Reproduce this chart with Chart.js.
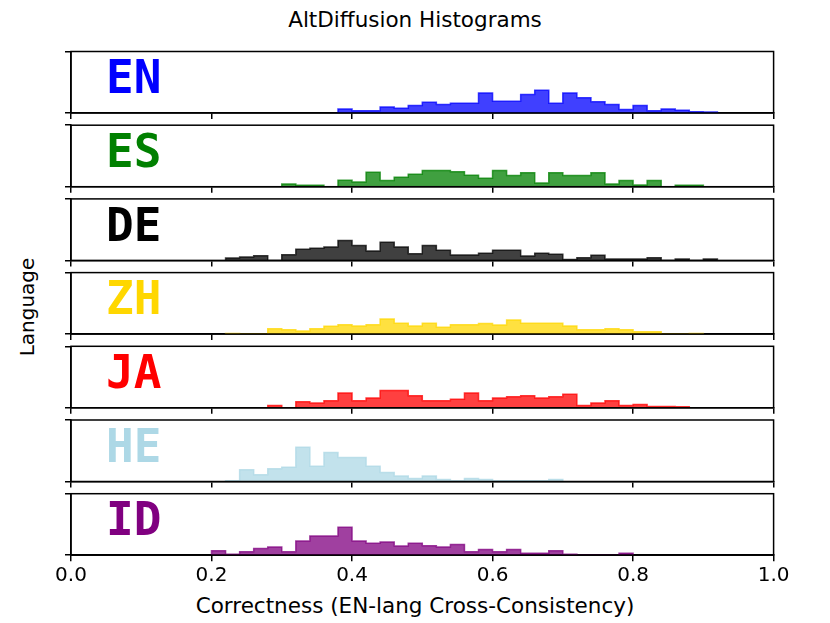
<!DOCTYPE html>
<html>
<head>
<meta charset="utf-8">
<title>AltDiffusion Histograms</title>
<script src="https://cdn.jsdelivr.net/npm/chart.js@4.4.1/dist/chart.umd.min.js"></script>
<style>
  html, body { margin: 0; padding: 0; background: #fff; }
  #figure { position: relative; width: 830px; height: 623px; overflow: hidden; font-family: 'DejaVu Sans', sans-serif; color: #000; }
  #figure canvas { position: absolute; left: 0; top: 0; }
  #suptitle { position: absolute; left: 0; top: 5px; width: 830px; text-align: center; font-size: 21.5px; line-height: 30px; }
  #supxlabel { position: absolute; left: 0; top: 593px; width: 830px; text-align: center; font-size: 21.5px; line-height: 26px; white-space: nowrap; }
  #supylabel { position: absolute; left: 27px; top: 307px; font-size: 20px; line-height: 24px; white-space: nowrap;
               transform: translate(-50%, -50%) rotate(-90deg); }
</style>
</head>
<body>
<div id="figure">
  <div id="suptitle">AltDiffusion Histograms</div>
  <div id="supxlabel"></div>
  <div id="supylabel">Language</div>
</div>
<script>
// histogram data, bins of 0.02, heights (panel top = 182)
const binWidth = 0.02;
const languages = ['EN', 'ES', 'DE', 'ZH', 'JA', 'HE', 'ID'];
const firstBinEdges = [0.38, 0.30, 0.22, 0.22, 0.28, 0.22, 0.20];

const enHeights = [12, 7, 7, 18, 14, 22, 32, 25, 29, 29, 59, 35, 35, 55, 67, 29, 59, 45, 33, 25, 10, 22, 7, 12, 8, 4, 3];
const esHeights = [8, 4, 4, 0, 19, 14, 43, 18, 28, 37, 48, 48, 44, 34, 25, 48, 33, 41, 11, 41, 33, 33, 41, 8, 18, 5, 18, 0, 4, 4];
const deHeights = [7, 10, 14, 0, 17, 33, 36, 40, 59, 44, 28, 54, 40, 20, 44, 30, 16, 16, 21, 30, 30, 13, 21, 18, 3, 8, 15, 4, 4, 4, 8, 0, 4, 0, 4];
const zhHeights = [2, 0, 0, 16, 13, 9, 16, 23, 28, 24, 28, 45, 32, 24, 32, 20, 28, 28, 31, 27, 42, 32, 32, 32, 24, 13, 13, 16, 13, 7, 7, 0, 0, 2];
const jaHeights = [7, 0, 18, 14, 21, 44, 21, 29, 51, 51, 36, 21, 21, 25, 44, 21, 29, 33, 36, 29, 33, 40, 7, 14, 21, 7, 10, 4, 4, 3];
const heHeights = [2, 35, 20, 38, 42, 101, 45, 86, 71, 71, 45, 27, 16, 9, 16, 6, 2, 9, 6, 2, 2, 2, 2, 6];
const idHeights = [13, 3, 10, 20, 24, 10, 42, 57, 57, 83, 42, 35, 39, 27, 35, 28, 24, 32, 10, 17, 10, 17, 6, 6, 13, 3, 0, 0, 0, 6];

const allHeights = [enHeights, esHeights, deHeights, zhHeights, jaHeights, heHeights, idHeights];
const xTicks = [0, 0.2, 0.4, 0.6, 0.8, 1.0];
const yTicks = [0, 182];
const xTitle = 'Correctness (EN-lang Cross-Consistency)';

// styles
const rgb = ['0,0,255', '0,128,0', '0,0,0', '255,215,0', '255,0,0', '173,216,230', '128,0,128'];
const labelColors = ['#0000ff', '#008000', '#000000', '#ffd700', '#ff0000', '#add8e6', '#800080'];

// layout (px)
const figW = 830, figH = 623;
const axLeft = 71, axRight = 773.6;
const panelTop0 = 51.5, panelPitch = 73.7, panelH = 61.5;
const yAxisW = 10;

// x label is centred on the figure, not on the axes
document.getElementById('supxlabel').textContent = xTitle;

function histPoints(start, heights) {
    let pts = [{ x: start, y: 0 }];
    heights.forEach(function (h, i) {
        pts.push({ x: start + i * binWidth, y: h });
    });
    pts.push({ x: start + heights.length * binWidth, y: 0 });
    return pts;
}

// frame round the axes and the big language tag
const panelDecor = {
    id: 'panelDecor',
    afterDraw(chart, args, opts) {
        const ctx = chart.ctx;
        const a = chart.chartArea;
        ctx.save();
        ctx.strokeStyle = '#000';
        ctx.lineWidth = 1.5;
        ctx.strokeRect(a.left, a.top, a.right - a.left, a.bottom - a.top);
        ctx.font = 'bold 46px "DejaVu Sans Mono"';
        ctx.fillStyle = opts.color;
        ctx.textBaseline = 'alphabetic';
        ctx.textAlign = 'left';
        ctx.fillText(opts.label, a.left + 35, a.top + 41.7);
        ctx.restore();
    }
};

const fig = document.getElementById('figure');
const tickFont = { family: "'DejaVu Sans'", size: 20 };

languages.forEach(function (lang, i) {
    const isLast = i === languages.length - 1;
    const top = panelTop0 + i * panelPitch;
    const bottom = top + panelH;
    const xAxisH = isLast ? figH - bottom : 12;

    const canvas = document.createElement('canvas');
    canvas.width = figW;
    canvas.height = figH;
    fig.appendChild(canvas);

    new Chart(canvas, {
        type: 'line',
        data: {
            datasets: [{
                label: lang,
                data: histPoints(firstBinEdges[i], allHeights[i]),
                stepped: 'before', // horizontal first, so each height holds over its bin
                fill: 'origin',
                backgroundColor: 'rgba(' + rgb[i] + ',0.75)',
                borderColor: 'rgba(' + rgb[i] + ',0.75)',
                borderWidth: 1.5,
                pointRadius: 0,
                tension: 0
            }]
        },
        options: {
            responsive: false,
            animation: false,
            events: [],
            layout: {
                padding: {
                    left: axLeft - yAxisW,
                    right: figW - axRight,
                    top: top,
                    bottom: figH - bottom - xAxisH
                }
            },
            plugins: {
                legend: { display: false },
                tooltip: { enabled: false },
                panelDecor: { label: lang, color: labelColors[i] }
            },
            scales: {
                x: {
                    type: 'linear',
                    min: 0,
                    max: 1,
                    afterBuildTicks: function (s) { s.ticks = xTicks.map(v => ({ value: v })); },
                    afterFit: function (s) { s.height = xAxisH; },
                    grid: { drawOnChartArea: false, drawTicks: true, tickLength: 6, color: '#000', lineWidth: 1.5 },
                    border: { display: true, color: '#000', width: 1.5 },
                    ticks: {
                        display: isLast,
                        autoSkip: false,
                        maxRotation: 0,
                        padding: 3,
                        color: '#000',
                        font: tickFont,
                        callback: v => v.toFixed(1)
                    }
                },
                y: {
                    min: yTicks[0],
                    max: yTicks[yTicks.length - 1],
                    afterBuildTicks: function (s) { s.ticks = yTicks.map(v => ({ value: v })); },
                    afterFit: function (s) { s.width = yAxisW; },
                    grid: { drawOnChartArea: false, drawTicks: true, tickLength: 6, color: '#000', lineWidth: 1.5 },
                    border: { display: true, color: '#000', width: 1.5 },
                    ticks: { display: false }
                }
            }
        },
        plugins: [panelDecor]
    });
});
</script>
</body>
</html>
